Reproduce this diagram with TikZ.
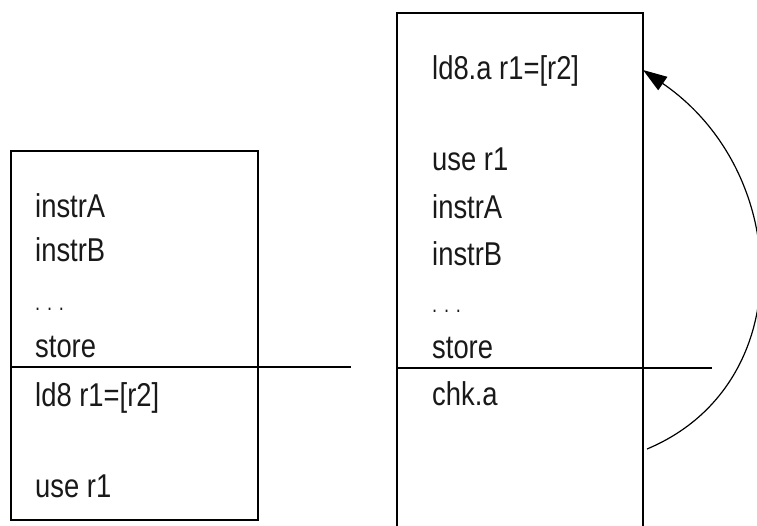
\documentclass[tikz,border=0pt]{standalone}
\usepackage{fontspec}
\setmainfont[FakeStretch=0.83]{Liberation Sans}
\usetikzlibrary{arrows.meta}
\begin{document}
\begin{tikzpicture}[x=1pt,y=-1pt,
  boxline/.style={line width=1.8pt},
  codetext/.style={anchor=base west,inner sep=0pt,font=\fontsize{33}{40}\selectfont,text=black!90},
  backarc/.style={line width=1.2pt,-{Triangle[length=24pt,width=16pt]}}]
\useasboundingbox (0,0) rectangle (757,525);
\clip (0,0) rectangle (757,525);
% left box
\draw[boxline] (11,151) rectangle (258,520);
\coordinate (lsA) at (11,367);
\coordinate (lsB) at (351,367);
\draw[boxline] (lsA) -- (lsB);
\node[codetext] (l1) at (35,217) {instrA};
\node[codetext] (l2) at (35,261) {instrB};
\node[codetext] (l3) at (35,310) {\fontsize{22}{26}\selectfont. . .};
\node[codetext] (l4) at (35,357) {store};
\node[codetext] (l5) at (35,406) {ld8 r1=[r2]};
\node[codetext] (l6) at (35,497) {use r1};
% right box
\draw[boxline] (643,560) -- (643,13) -- (397,13) -- (397,560);
\coordinate (rsA) at (397,368);
\coordinate (rsB) at (712,368);
\draw[boxline] (rsA) -- (rsB);
\node[codetext] (r1) at (432,79) {ld8.a r1=[r2]};
\node[codetext] (r2) at (432,170) {use r1};
\node[codetext] (r3) at (432,218) {instrA};
\node[codetext] (r4) at (432,265) {instrB};
\node[codetext] (r5) at (432,312) {\fontsize{22}{26}\selectfont. . .};
\node[codetext] (r6) at (432,358) {store};
\node[codetext] (r7) at (432,405) {chk.a};
% arc
\coordinate (arcS) at (647,449);
\coordinate (arcE) at (643,70);
\draw[backarc] (arcS) .. controls (800,385) and (792,172) .. (arcE);
\end{tikzpicture}
\end{document}
